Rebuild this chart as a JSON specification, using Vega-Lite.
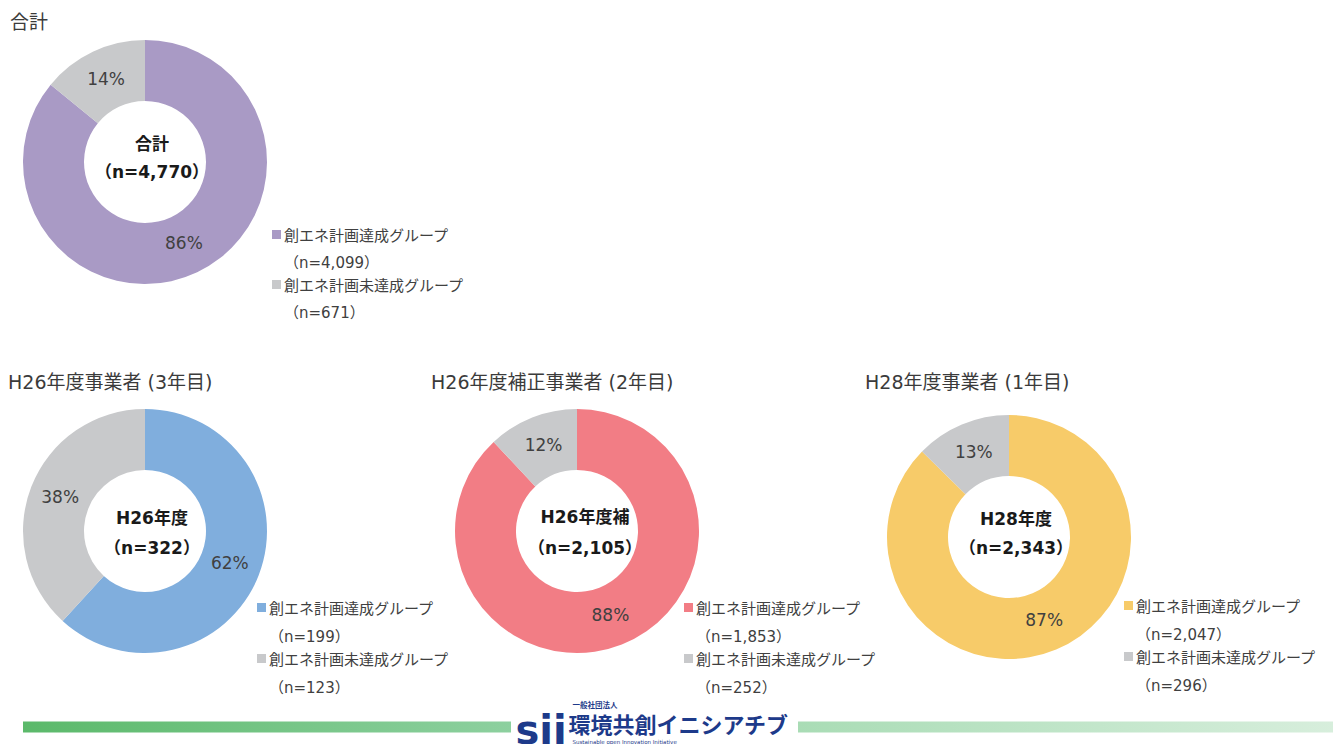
{
  "$schema": "https://vega.github.io/schema/vega-lite/v6.json",
  "background": "white",
  "autosize": {"type": "pad"},
  "padding": {"left": 8, "top": 14, "right": 0, "bottom": 0},
  "config": {
    "view": {"stroke": null},
    "font": "DejaVu Sans, Noto Sans CJK JP",
    "title": {"anchor": "start", "fontSize": 19, "fontWeight": "normal", "color": "#3b3b3b", "font": "DejaVu Sans, Noto Sans CJK JP"},
    "legend": {
      "orient": "none",
      "title": null,
      "padding": 0,
      "symbolType": "M-1,0.33H1V2.33H-1Z",
      "symbolSize": 81,
      "symbolStrokeWidth": 0,
      "symbolOpacity": 1,
      "labelFontSize": 15,
      "labelColor": "#404040",
      "labelFont": "DejaVu Sans, Noto Sans CJK JP",
      "labelLimit": 400,
      "labelBaseline": "top",
      "labelOffset": 0,
      "rowPadding": 0
    }
  },
  "spacing": 6,
  "resolve": {"scale": {"color": "independent", "theta": "independent"}, "legend": {"color": "independent"}},
  "vconcat": [
    {
      "bounds": "flush",
      "spacing": 125,
      "resolve": {"scale": {"color": "independent", "theta": "independent"}, "legend": {"color": "independent"}},
      "vconcat": [
        {
          "width": 244,
          "height": 244,
          "title": {"text": "合計", "dx": -13, "offset": 7},
          "data": {"values": [
            {"label": "創エネ計画達成グループ（n=4,099）", "n": 4099, "pct": "86%"},
            {"label": "創エネ計画未達成グループ（n=671）", "n": 671, "pct": "14%"}
          ]},
          "layer": [
            {
              "mark": {"type": "arc", "radius": 122, "innerRadius": 61},
              "encoding": {
                "theta": {"field": "n", "type": "quantitative", "stack": true},
                "order": {"field": "label", "sort": "descending"},
                "color": {"field": "label", "type": "nominal", "sort": "descending",
                  "scale": {"range": ["#A99AC5", "#C8C9CB"]},
                  "legend": {"legendX": 246, "legendY": 181, "labelExpr": "[slice(datum.label, 0, indexof(datum.label, '（')), slice(datum.label, indexof(datum.label, '（'))]",
                    "encode": {"labels": {"update": {"lineHeight": {"value": 27}}}}}}
              }
            },
            {
              "mark": {"type": "text", "radius": 91, "fontSize": 17, "color": "#404040"},
              "encoding": {
                "theta": {"field": "n", "type": "quantitative", "stack": true},
                "order": {"field": "label", "sort": "descending"},
                "text": {"field": "pct", "type": "nominal"}
              }
            },
            {
              "data": {"values": [{"center": "合計\n（n=4,770）"}]},
              "mark": {"type": "text", "lineBreak": "\n", "lineHeight": 28, "fontSize": 17, "fontWeight": "bold", "color": "#1a1a1a", "dx": 7, "dy": -17},
              "encoding": {"text": {"field": "center", "type": "nominal"}}
            }
          ]
        },
        {
          "bounds": "flush",
          "spacing": 188,
          "resolve": {"scale": {"color": "independent", "theta": "independent"}, "legend": {"color": "independent"}},
          "hconcat": [
            {
              "width": 244,
              "height": 244,
              "title": {"text": "H26年度事業者 (3年目)", "dx": -15, "offset": 16},
              "data": {"values": [
                {"label": "創エネ計画達成グループ（n=199）", "n": 199, "pct": "62%"},
                {"label": "創エネ計画未達成グループ（n=123）", "n": 123, "pct": "38%"}
              ]},
              "layer": [
                {
                  "mark": {"type": "arc", "radius": 122, "innerRadius": 61},
                  "encoding": {
                    "theta": {"field": "n", "type": "quantitative", "stack": true},
                    "order": {"field": "label", "sort": "descending"},
                    "color": {"field": "label", "type": "nominal", "sort": "descending",
                      "scale": {"range": ["#80AEDD", "#C8C9CB"]},
                      "legend": {"legendX": 231, "legendY": 185, "labelExpr": "[slice(datum.label, 0, indexof(datum.label, '（')), slice(datum.label, indexof(datum.label, '（'))]",
                        "encode": {"labels": {"update": {"lineHeight": {"value": 28}}}}}}
                  }
                },
                {
                  "mark": {"type": "text", "radius": 91, "fontSize": 17, "color": "#404040"},
                  "encoding": {
                    "theta": {"field": "n", "type": "quantitative", "stack": true},
                    "order": {"field": "label", "sort": "descending"},
                    "text": {"field": "pct", "type": "nominal"}
                  }
                },
                {
                  "data": {"values": [{"center": "H26年度\n（n=322）"}]},
                  "mark": {"type": "text", "lineBreak": "\n", "lineHeight": 30, "fontSize": 17, "fontWeight": "bold", "color": "#1a1a1a", "dx": 7, "dy": -12},
                  "encoding": {"text": {"field": "center", "type": "nominal"}}
                }
              ]
            },
            {
              "width": 244,
              "height": 244,
              "title": {"text": "H26年度補正事業者 (2年目)", "dx": -24, "offset": 16},
              "data": {"values": [
                {"label": "創エネ計画達成グループ（n=1,853）", "n": 1853, "pct": "88%"},
                {"label": "創エネ計画未達成グループ（n=252）", "n": 252, "pct": "12%"}
              ]},
              "layer": [
                {
                  "mark": {"type": "arc", "radius": 122, "innerRadius": 61},
                  "encoding": {
                    "theta": {"field": "n", "type": "quantitative", "stack": true},
                    "order": {"field": "label", "sort": "descending"},
                    "color": {"field": "label", "type": "nominal", "sort": "descending",
                      "scale": {"range": ["#F27D85", "#C8C9CB"]},
                      "legend": {"legendX": 226, "legendY": 185, "labelExpr": "[slice(datum.label, 0, indexof(datum.label, '（')), slice(datum.label, indexof(datum.label, '（'))]",
                        "encode": {"labels": {"update": {"lineHeight": {"value": 28}}}}}}
                  }
                },
                {
                  "mark": {"type": "text", "radius": 91, "fontSize": 17, "color": "#404040"},
                  "encoding": {
                    "theta": {"field": "n", "type": "quantitative", "stack": true},
                    "order": {"field": "label", "sort": "descending"},
                    "text": {"field": "pct", "type": "nominal"}
                  }
                },
                {
                  "data": {"values": [{"center": "H26年度補\n（n=2,105）"}]},
                  "mark": {"type": "text", "lineBreak": "\n", "lineHeight": 31, "fontSize": 17, "fontWeight": "bold", "color": "#1a1a1a", "dx": 8, "dy": -13},
                  "encoding": {"text": {"field": "center", "type": "nominal"}}
                }
              ]
            },
            {
              "width": 244,
              "height": 256,
              "title": {"text": "H28年度事業者 (1年目)", "dx": -22, "offset": 16},
              "data": {"values": [
                {"label": "創エネ計画達成グループ（n=2,047）", "n": 2047, "pct": "87%"},
                {"label": "創エネ計画未達成グループ（n=296）", "n": 296, "pct": "13%"}
              ]},
              "layer": [
                {
                  "mark": {"type": "arc", "radius": 122, "innerRadius": 61},
                  "encoding": {
                    "theta": {"field": "n", "type": "quantitative", "stack": true},
                    "order": {"field": "label", "sort": "descending"},
                    "color": {"field": "label", "type": "nominal", "sort": "descending",
                      "scale": {"range": ["#F7CB69", "#C8C9CB"]},
                      "legend": {"legendX": 234, "legendY": 183, "labelExpr": "[slice(datum.label, 0, indexof(datum.label, '（')), slice(datum.label, indexof(datum.label, '（'))]",
                        "encode": {"labels": {"update": {"lineHeight": {"value": 28}}}}}}
                  }
                },
                {
                  "mark": {"type": "text", "radius": 91, "fontSize": 17, "color": "#404040"},
                  "encoding": {
                    "theta": {"field": "n", "type": "quantitative", "stack": true},
                    "order": {"field": "label", "sort": "descending"},
                    "text": {"field": "pct", "type": "nominal"}
                  }
                },
                {
                  "data": {"values": [{"center": "H28年度\n（n=2,343）"}]},
                  "mark": {"type": "text", "lineBreak": "\n", "lineHeight": 29, "fontSize": 17, "fontWeight": "bold", "color": "#1a1a1a", "dx": 7, "dy": -17},
                  "encoding": {"text": {"field": "center", "type": "nominal"}}
                }
              ]
            }
          ]
        }
      ]
    },
    {
      "bounds": "flush",
      "center": true,
      "spacing": 0,
      "hconcat": [
        {
          "width": 488,
          "height": 11,
          "data": {"values": [{}]},
          "mark": {"type": "rect", "color": {"gradient": "linear", "x1": 0, "x2": 1, "y1": 0, "y2": 0, "stops": [{"offset": 0, "color": "#5BB96A"}, {"offset": 1, "color": "#8DD09F"}]}},
          "encoding": {}
        },
        {
          "width": 287,
          "height": 44,
          "layer": [
            {
              "data": {"values": [{"t": "sii"}]},
              "mark": {"type": "text", "align": "left", "baseline": "alphabetic", "fontSize": 40, "fontWeight": "bold", "color": "#1D3A8A", "font": "DejaVu Sans", "dx": -139, "dy": 17},
              "encoding": {"text": {"field": "t", "type": "nominal"}}
            },
            {
              "data": {"values": [{"t": "一般社団法人"}]},
              "mark": {"type": "text", "align": "left", "baseline": "middle", "fontSize": 7.5, "fontWeight": "bold", "color": "#1D3A8A", "font": "Noto Sans CJK JP", "dx": -82, "dy": -21},
              "encoding": {"text": {"field": "t", "type": "nominal"}}
            },
            {
              "data": {"values": [{"t": "環境共創イニシアチブ"}]},
              "mark": {"type": "text", "align": "left", "baseline": "middle", "fontSize": 22, "fontWeight": "bold", "color": "#1D3A8A", "font": "Noto Sans CJK JP", "dx": -86, "dy": -1},
              "encoding": {"text": {"field": "t", "type": "nominal"}}
            },
            {
              "data": {"values": [{"t": "Sustainable open Innovation Initiative"}]},
              "mark": {"type": "text", "align": "left", "baseline": "middle", "fontSize": 5.5, "color": "#1D3A8A", "font": "DejaVu Sans", "dx": -82, "dy": 15},
              "encoding": {"text": {"field": "t", "type": "nominal"}}
            }
          ]
        },
        {
          "width": 536,
          "height": 11,
          "data": {"values": [{}]},
          "mark": {"type": "rect", "color": {"gradient": "linear", "x1": 0, "x2": 1, "y1": 0, "y2": 0, "stops": [{"offset": 0, "color": "#A9DCB5"}, {"offset": 1, "color": "#D7EEDC"}]}},
          "encoding": {}
        }
      ]
    }
  ]
}
